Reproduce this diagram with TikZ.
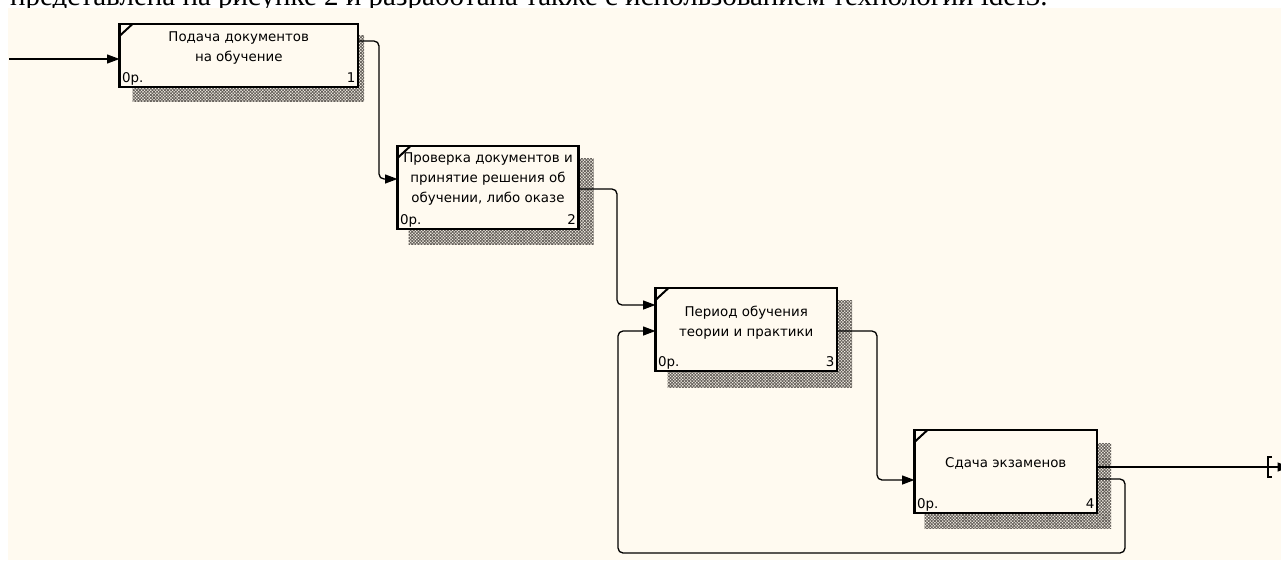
\documentclass[tikz,border=0pt]{standalone}
\usepackage{fontspec}
\setmainfont{Liberation Serif}
\newfontfamily\captionfont{Liberation Serif}
\newfontfamily\boxfont{DejaVu Sans}
\usetikzlibrary{arrows.meta,patterns.meta}
\definecolor{paper}{RGB}{255,250,240}
\definecolor{shade}{RGB}{100,95,90}
\pgfdeclarelayer{backdrop}
\pgfdeclarelayer{shadows}
\pgfsetlayers{backdrop,shadows,main}
\tikzset{
  actbox/.style={draw=black, line width=2.6pt, fill=paper, rectangle,
    inner sep=0pt, outer sep=0pt, anchor=north west},
  boxtext/.style={font=\boxfont\fontsize{13.4}{20}\selectfont, align=center,
    inner sep=0pt, anchor=north},
  cornertext/.style={font=\boxfont\fontsize{13.4}{15}\selectfont, inner sep=0pt},
  boxshadow/.style={pattern={Hatch[angle=45,distance=2.2pt,line width=0.8pt]},
    pattern color=shade},
  flow/.style={draw=black, line width=1.3pt, rounded corners=5pt,
    -{Triangle[length=12.5pt,width=9pt]}},
  tick/.style={draw=black, line width=2pt},
}
\begin{document}
\begin{tikzpicture}[x=1pt,y=-1pt]
\useasboundingbox (0,0) rectangle (1281,560);
\begin{pgfonlayer}{backdrop}
  \fill[white] (0,0) rectangle (1281,560);
  \node[anchor=base west, inner sep=0pt, font=\captionfont\fontsize{29}{32}\selectfont] (caption) at (10,5)
    {представлена на рисунке 2 и разработана также с использованием технологии idef3.};
  \fill[paper] (8,7.5) rectangle (1281,560);
\end{pgfonlayer}

% activity boxes
\node[actbox, minimum width=238.5pt, minimum height=63pt] (b1) at (119.5,24) {};
\node[actbox, minimum width=181pt, minimum height=83pt] (b2) at (397.5,146) {};
\node[actbox, minimum width=181.5pt, minimum height=83pt] (b3) at (655.5,288) {};
\node[actbox, minimum width=182.5pt, minimum height=83pt] (b4) at (914.5,430) {};

% hatched drop shadows
\begin{pgfonlayer}{shadows}
  \fill[boxshadow] ([shift={(13,11)}]b1.north west) rectangle ([shift={(6,14)}]b1.south east);
  \fill[boxshadow] ([shift={(11,12)}]b2.north west) rectangle ([shift={(15,15)}]b2.south east);
  \fill[boxshadow] ([shift={(12,12)}]b3.north west) rectangle ([shift={(15,16)}]b3.south east);
  \fill[boxshadow] ([shift={(10,13)}]b4.north west) rectangle ([shift={(14,15)}]b4.south east);
\end{pgfonlayer}

% corner ticks
\foreach \b in {b1,b2,b3,b4}{
  \draw[tick] ([yshift=-12pt]\b.north west) -- ([xshift=13pt]\b.north west);
}

% box titles
\node[boxtext] (t1) at ([yshift=-7.5pt]b1.north) {Подача документов\\на обучение};
\node[boxtext] (t2) at ([yshift=-7pt]b2.north) {Проверка документов и\\принятие решения об\\обучении, либо оказе};
\node[boxtext] (t3) at ([yshift=-18pt]b3.north) {Период обучения\\теории и практики};
\node[boxtext] (t4) at ([yshift=-27pt]b4.north) {Сдача экзаменов};

% reference and number labels
\foreach \b/\n in {b1/1,b2/2,b3/3,b4/4}{
  \node[cornertext, anchor=base west] (\b r) at ([shift={(2.5,-4.5)}]\b.south west) {0р.};
  \node[cornertext, anchor=base east] (\b n) at ([shift={(-2.5,-4.5)}]\b.south east) {\n};
}

% connectors
\coordinate (src) at (9,59);
\coordinate (exit) at (1290,467);
\draw[flow] (src) -- (b1.west |- src);
\draw[flow] (b1.east |- 0,41) -- (379,41) -- (379,179) -- (b2.west |- 0,179);
\draw[flow] (b2.east |- 0,189) -- (617,189) -- (617,305) -- (b3.west |- 0,305);
\draw[flow] (b3.east |- 0,331) -- (877,331) -- (877,480) -- (b4.west |- 0,480);
\draw[flow] (b4.east |- 0,479) -- (1125,479) -- (1125,553) -- (618,553) -- (618,331) -- (b3.west |- 0,331);
\draw[flow] (b4.east |- exit) -- (exit);
% tunnel bracket on the outgoing arrow
\draw[line width=1.3pt] (1272,457) -- (1268,457) -- (1268,477) -- (1272,477);
\end{tikzpicture}
\end{document}
